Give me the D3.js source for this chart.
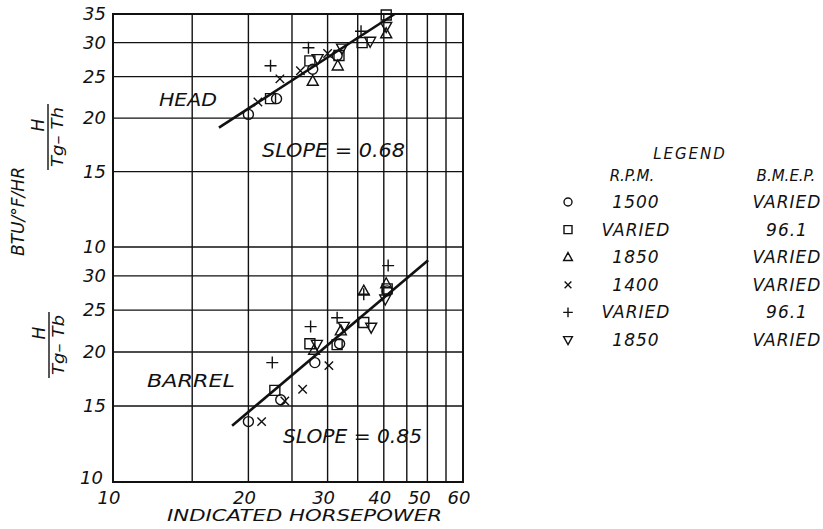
<!DOCTYPE html>
<html><head><meta charset="utf-8">
<script src="https://cdn.jsdelivr.net/npm/d3@7"></script>
<style>
html,body{margin:0;padding:0;background:#fff;}
text{font-family:"DejaVu Sans",sans-serif;font-style:italic;fill:#111;}
</style></head>
<body>
<svg id="c" width="823" height="529"></svg>
<script>
// ---------- data ----------
const xTicks = [10, 20, 30, 40, 50, 60];
const xGrid = [15, 20, 25, 30, 35, 40, 45, 50, 55];
const yGrid = [15, 20, 25, 30];
const headTickLabels = [10, 15, 20, 25, 30, 35];
const barrelTickLabels = [10, 15, 20, 25, 30];

const headCircle   = [[20.0,20.4],[23.1,22.2],[27.8,26.0],[31.5,28.0]];
const headSquare   = [[22.4,22.2],[27.4,27.2],[31.8,28.0],[35.8,30.0],[40.5,34.8]];
const headTriUp    = [[27.8,24.4],[31.6,26.5],[40.5,31.5]];
const headCross    = [[21.0,21.8],[23.5,24.7],[26.1,25.8],[30.0,28.3]];
const headPlus     = [[22.4,26.5],[27.2,29.2],[35.6,31.9]];
const headTriDown  = [[28.5,27.5],[32.3,29.1],[37.3,30.2],[40.5,32.7]];
const headFit      = [[17.2,19.0],[42.3,35.0]];

const barrelCircle  = [[20.0,13.8],[23.6,15.5],[28.1,18.9],[31.9,20.9],[40.7,27.7]];
const barrelSquare  = [[22.9,16.3],[27.4,20.9],[31.5,20.8],[36.1,23.4],[40.7,28.0]];
const barrelTriUp   = [[28.0,20.2],[32.1,22.4],[36.1,27.7],[40.5,28.8]];
const barrelCross   = [[21.4,13.8],[24.1,15.4],[26.4,16.4],[30.2,18.6]];
const barrelPlus    = [[22.6,18.9],[27.5,22.9],[31.5,24.0],[36.1,27.2],[40.9,31.7]];
const barrelTriDown = [[28.4,20.8],[32.6,22.9],[37.5,22.8],[40.3,26.5]];
const barrelFit     = [[18.4,13.5],[50.2,32.6]];

const legendSymbols = ["circle","square","triUp","cross","plus","triDown"];
const legendRPM  = ["1500","VARIED","1850","1400","VARIED","1850"];
const legendBMEP = ["VARIED","96.1","VARIED","VARIED","96.1","VARIED"];

// ---------- scales ----------
const svg = d3.select("#c");
const x = d3.scaleLog().domain([10, 60]).range([113, 463]);
const yHead = d3.scaleLog().domain([10, 35]).range([247, 14]);
const yBarrel = d3.scaleLog().domain([10, 35]).range([482, 247]);
const ink = "#111";

// ---------- grid ----------
const grid = svg.append("g").attr("stroke", ink).attr("stroke-width", 1.4);
xGrid.forEach(v => grid.append("line").attr("x1", x(v)).attr("x2", x(v)).attr("y1", yHead(35)).attr("y2", yBarrel(10)));
[yHead, yBarrel].forEach(ys => {
  yGrid.forEach(v => grid.append("line").attr("x1", x(10)).attr("x2", x(60)).attr("y1", ys(v)).attr("y2", ys(v)));
});
grid.append("line").attr("x1", x(10)).attr("x2", x(60)).attr("y1", yHead(10)).attr("y2", yHead(10)).attr("stroke-width", 1.6);
svg.append("rect").attr("x", x(10)).attr("y", yHead(35)).attr("width", x(60) - x(10)).attr("height", yBarrel(10) - yHead(35))
  .attr("fill", "none").attr("stroke", ink).attr("stroke-width", 2);

// ---------- tick labels ----------
const tl = svg.append("g").attr("font-size", 18);
headTickLabels.forEach(v => tl.append("text").attr("x", 106).attr("y", yHead(v) + 6).attr("text-anchor", "end").text(v));
barrelTickLabels.forEach(v => tl.append("text").attr("x", v === 10 ? 103 : 106).attr("y", yBarrel(v) + (v === 10 ? 2 : 6)).attr("text-anchor", "end").text(v));
xTicks.forEach(v => tl.append("text").attr("x", x(v) - (v === 50 ? 8 : 4)).attr("y", 504).attr("text-anchor", "middle").text(v));

// ---------- fit lines ----------
const lineGen = ys => d3.line().x(d => x(d[0])).y(d => ys(d[1]));
svg.append("path").attr("d", lineGen(yHead)(headFit)).attr("stroke", ink).attr("stroke-width", 2.6).attr("fill", "none");
svg.append("path").attr("d", lineGen(yBarrel)(barrelFit)).attr("stroke", ink).attr("stroke-width", 2.6).attr("fill", "none");

// ---------- markers ----------
function shape(type, s) {
  const p = d3.path();
  if (type === "circle") { p.moveTo(s * 0.5, 0); p.arc(0, 0, s * 0.5, 0, 2 * Math.PI); }
  else if (type === "square") { p.rect(-s / 2, -s / 2, s, s); }
  else if (type === "triUp") { p.moveTo(0, -s * 0.58); p.lineTo(s * 0.55, s * 0.42); p.lineTo(-s * 0.55, s * 0.42); p.closePath(); }
  else if (type === "triDown") { p.moveTo(0, s * 0.58); p.lineTo(s * 0.55, -s * 0.42); p.lineTo(-s * 0.55, -s * 0.42); p.closePath(); }
  else if (type === "cross") { const h = s * 0.42; p.moveTo(-h, -h); p.lineTo(h, h); p.moveTo(-h, h); p.lineTo(h, -h); }
  else if (type === "plus") { const h = s * 0.6; p.moveTo(-h, 0); p.lineTo(h, 0); p.moveTo(0, -h); p.lineTo(0, h); }
  return p.toString();
}
function drawSeries(data, type, ys) {
  svg.append("g").selectAll("path").data(data).join("path")
    .attr("transform", d => `translate(${x(d[0])},${ys(d[1])})`)
    .attr("d", shape(type, 10)).attr("fill", "none").attr("stroke", ink).attr("stroke-width", 1.4);
}
drawSeries(headCircle, "circle", yHead); drawSeries(headSquare, "square", yHead);
drawSeries(headTriUp, "triUp", yHead); drawSeries(headCross, "cross", yHead);
drawSeries(headPlus, "plus", yHead); drawSeries(headTriDown, "triDown", yHead);
drawSeries(barrelCircle, "circle", yBarrel); drawSeries(barrelSquare, "square", yBarrel);
drawSeries(barrelTriUp, "triUp", yBarrel); drawSeries(barrelCross, "cross", yBarrel);
drawSeries(barrelPlus, "plus", yBarrel); drawSeries(barrelTriDown, "triDown", yBarrel);

// ---------- annotations ----------
function label(txt, px, py, size, len, anchor) {
  const t = svg.append("text").attr("x", px).attr("y", py).attr("font-size", size).attr("text-anchor", anchor || "start").text(txt);
  if (len) t.attr("textLength", len).attr("lengthAdjust", "spacingAndGlyphs");
  return t;
}
label("HEAD", 159, 106, 17, 58);
label("SLOPE = 0.68", 262, 157, 19, 143);
label("BARREL", 147, 387, 17, 88);
label("SLOPE = 0.85", 283, 443, 19, 139);
label("INDICATED HORSEPOWER", 167, 521, 16, 275);

// y-axis title
const yt = svg.append("g").attr("transform", "translate(17,212) rotate(-90)");
yt.append("text").attr("x", -44).attr("y", 7).attr("font-size", 17).attr("textLength", 89).attr("lengthAdjust", "spacingAndGlyphs").text("BTU/°F/HR");

function fraction(cx, cy, sub) {
  const g = svg.append("g").attr("transform", `translate(${cx},${cy}) rotate(-90)`);
  g.append("line").attr("x1", -33).attr("x2", 33).attr("y1", 0).attr("y2", 0).attr("stroke", ink).attr("stroke-width", 1.4);
  g.append("text").attr("x", 12).attr("y", -4).attr("font-size", 17).attr("text-anchor", "middle").text("H");
  g.append("text").attr("x", 0).attr("y", 15).attr("font-size", 16).attr("text-anchor", "middle")
    .attr("textLength", 60).attr("lengthAdjust", "spacingAndGlyphs").text("Tg\u2013 T" + sub);
}
fraction(48, 137, "h");
fraction(49, 345, "b");

// ---------- legend ----------
const lg = svg.append("g");
lg.append("text").attr("x", 690).attr("y", 159).attr("font-size", 15).attr("text-anchor", "middle").attr("letter-spacing", 2).text("LEGEND");
lg.append("text").attr("x", 632).attr("y", 181).attr("font-size", 15).attr("text-anchor", "middle").text("R.P.M.");
lg.append("text").attr("x", 786).attr("y", 181).attr("font-size", 15).attr("text-anchor", "middle").text("B.M.E.P.");
const rowY = d3.scalePoint().domain(d3.range(legendSymbols.length)).range([202, 340]);
legendSymbols.forEach((s, i) => {
  lg.append("path").attr("transform", `translate(568,${rowY(i)})`).attr("d", shape(s, 8))
    .attr("fill", "none").attr("stroke", ink).attr("stroke-width", 1.4);
  lg.append("text").attr("x", 636).attr("y", rowY(i) + 6).attr("font-size", 17).attr("text-anchor", "middle").attr("letter-spacing", 1).text(legendRPM[i]);
  lg.append("text").attr("x", 787).attr("y", rowY(i) + 6).attr("font-size", 17).attr("text-anchor", "middle").attr("letter-spacing", 1).text(legendBMEP[i]);
});
</script>
</body></html>
